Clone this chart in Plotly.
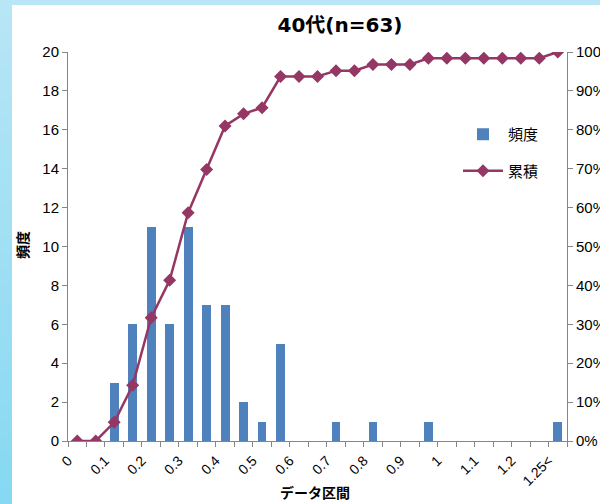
import plotly.graph_objects as go

# Histogram bins (0.05 wide) and the counts in each bin
bin_index = list(range(27))
counts = [0, 0, 3, 6, 11, 6, 11, 7, 7, 2, 1, 5, 0, 0, 1, 0, 1, 0, 0, 1, 0, 0, 0, 0, 0, 0, 1]
# Cumulative share of respondents (fraction)
cumulative = [0.0, 0.0, 0.048, 0.143, 0.317, 0.413, 0.587, 0.698, 0.810, 0.841, 0.857,
              0.937, 0.937, 0.937, 0.952, 0.952, 0.968, 0.968, 0.968, 0.984, 0.984,
              0.984, 0.984, 0.984, 0.984, 0.984, 1.0]
# Labels shown along the category axis
label_index = [0, 2, 4, 6, 8, 10, 12, 14, 16, 18, 20, 22, 24, 26]
label_text = ["0", "0.1", "0.2", "0.3", "0.4", "0.5", "0.6", "0.7", "0.8", "0.9",
              "1", "1.1", "1.2", "1.25<"]

W, H = 600, 504
L, R, T, B = 68, 33, 52, 63
pw, ph = W - L - R, H - T - B

def px_x(x):
    return (x - L) / pw

def px_y(y):
    return (H - B - y) / ph

NUM_FONT = "Liberation Sans, Arial, Noto Sans CJK JP, sans-serif"
JP_FONT = "Noto Sans CJK JP, sans-serif"
AXIS_GREY = "#868686"

fig = go.Figure()

fig.add_trace(go.Bar(
    x=bin_index, y=counts, name="頻度", legendgroup="freq",
    marker=dict(color="#4f81bd", line=dict(width=0)),
    width=0.48, yaxis="y",
))
fig.add_trace(go.Scatter(
    x=bin_index, y=cumulative, name="累積", mode="lines+markers", legendgroup="cum",
    line=dict(color="#953764", width=2.5),
    marker=dict(symbol="diamond", size=10, color="#953764"),
    yaxis="y2",
))

# Light-blue frame around the white chart panel (vertical gradient on the left)
shapes = []
top_c = (0xb8, 0xe6, 0xf6)
bot_c = (0x86, 0xd8, 0xf2)
n = 30
for k in range(n):
    t0 = k / n
    t1 = (k + 1.3) / n
    tm = (k + 0.5) / n
    c = tuple(round(top_c[j] + (bot_c[j] - top_c[j]) * tm) for j in range(3))
    shapes.append(dict(
        type="rect", xref="paper", yref="paper", layer="below",
        x0=px_x(0), x1=px_x(12), y0=px_y(t0 * H), y1=px_y(min(t1, 1.0) * H),
        fillcolor="rgb(%d,%d,%d)" % c, line=dict(width=0),
    ))
shapes.append(dict(
    type="rect", xref="paper", yref="paper", layer="below",
    x0=px_x(0), x1=px_x(W), y0=px_y(0), y1=px_y(5),
    fillcolor="rgb(184,230,246)", line=dict(width=0),
))

fig.update_layout(
    width=W, height=H,
    margin=dict(l=L, r=R, t=T, b=B, pad=0, autoexpand=False),
    paper_bgcolor="white", plot_bgcolor="rgba(0,0,0,0)",
    showlegend=True,
    bargap=0,
    title=dict(text="<b>40代(n=63)</b>", x=340 / W, xanchor="center",
               y=1 - 25 / H, yanchor="middle", yref="container",
               font=dict(family="DejaVu Sans, Noto Sans CJK JP, sans-serif", size=20, color="black")),
    xaxis=dict(
        range=[-0.5, 26.5], showgrid=False, zeroline=False, automargin=False,
        showline=True, linecolor=AXIS_GREY, linewidth=1,
        tickmode="array", tickvals=[i - 0.5 for i in label_index], ticktext=label_text,
        ticks="outside", ticklen=5, tickcolor="rgba(0,0,0,0)",
        tickangle=-45, tickfont=dict(family=NUM_FONT, size=14, color="black"),
        minor=dict(tickmode="array", tickvals=[i - 0.5 for i in range(28)],
                   ticks="outside", ticklen=5, tickcolor=AXIS_GREY, tickwidth=1,
                   showgrid=False),
    ),
    yaxis=dict(
        range=[0, 20], dtick=2, showgrid=False, zeroline=False, automargin=False,
        showline=True, linecolor=AXIS_GREY, linewidth=1,
        ticks="outside", ticklen=5, tickcolor=AXIS_GREY,
        tickfont=dict(family=NUM_FONT, size=15, color="black"),
    ),
    yaxis2=dict(
        range=[0, 1], dtick=0.1, tickformat=".0%", overlaying="y", side="right",
        showgrid=False, zeroline=False, automargin=False,
        showline=True, linecolor=AXIS_GREY, linewidth=1,
        ticks="outside", ticklen=5, tickcolor=AXIS_GREY,
        tickfont=dict(family=NUM_FONT, size=15, color="black"),
    ),
    legend=dict(
        x=px_x(458), y=px_y(118), xanchor="left", yanchor="top",
        bgcolor="rgba(0,0,0,0)", itemwidth=40, tracegroupgap=14,
        font=dict(family=JP_FONT, size=15, color="black"),
    ),
    shapes=shapes,
    annotations=[
        dict(text="<b>頻度</b>", xref="paper", yref="paper", x=px_x(22), y=px_y(245),
             textangle=-90, showarrow=False, xanchor="center", yanchor="middle",
             font=dict(family=JP_FONT, size=14, color="black")),
        dict(text="<b>データ区間</b>", xref="paper", yref="paper", x=px_x(315), y=px_y(492),
             showarrow=False, xanchor="center", yanchor="middle",
             font=dict(family=JP_FONT, size=14, color="black")),
    ],
)

fig.write_html("out.html")
